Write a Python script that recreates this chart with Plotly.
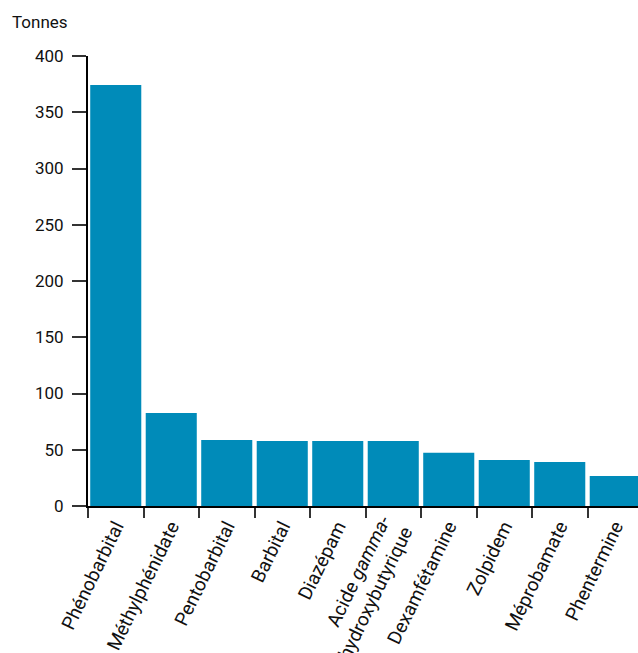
import plotly.graph_objects as go

categories = ["Phénobarbital", "Méthylphénidate", "Pentobarbital", "Barbital", "Diazépam",
              "Acide <i>gamma</i>-<br>hydroxybutyrique", "Dexamfétamine", "Zolpidem", "Méprobamate", "Phentermine"]
values = [374.2, 82.7, 58.7, 57.8, 57.8, 57.8, 47.4, 40.9, 39.1, 26.7]
y_ticks = [0, 50, 100, 150, 200, 250, 300, 350, 400]
y_title = "Tonnes"

FONT = "Roboto, sans-serif"

fig = go.Figure(go.Bar(x=categories, y=values, marker_color="#008bb9",
                       marker_line_width=0))

fig.update_layout(
    width=638, height=653,
    margin=dict(l=88, r=0, t=56, b=147, autoexpand=False),
    plot_bgcolor="white", paper_bgcolor="white",
    bargap=0.08,
    showlegend=False,
    font=dict(family=FONT, size=17, color="#111111"),
    annotations=[dict(text=y_title, xref="paper", yref="paper", x=-78/550, y=1 + (56 - 22)/450,
                      xanchor="left", yanchor="middle", showarrow=False,
                      font=dict(family=FONT, size=17, color="#111111"))],
)

fig.update_xaxes(
    type="category",
    range=[-0.5, 9.41],
    tickangle=-64,
    tickfont=dict(family=FONT, size=19, color="#111111"),
    showline=True, linecolor="black", linewidth=2,
    ticks="outside", ticklen=10, tickcolor="#333", tickwidth=2,
    showgrid=False, zeroline=False, automargin=False,
    tickson="boundaries",
)
fig.update_yaxes(
    range=[0, 400], tickvals=y_ticks,
    showline=True, linecolor="black", linewidth=2,
    ticks="outside", ticklen=14, tickcolor="#333", tickwidth=2,
    showgrid=False, zeroline=False, automargin=False,
    ticklabelstandoff=5,
    tickfont=dict(family=FONT, size=17, color="#111111"),
)

fig.write_html("out.html", post_script="document.body.style.margin='0';",
               config={"displayModeBar": False})
